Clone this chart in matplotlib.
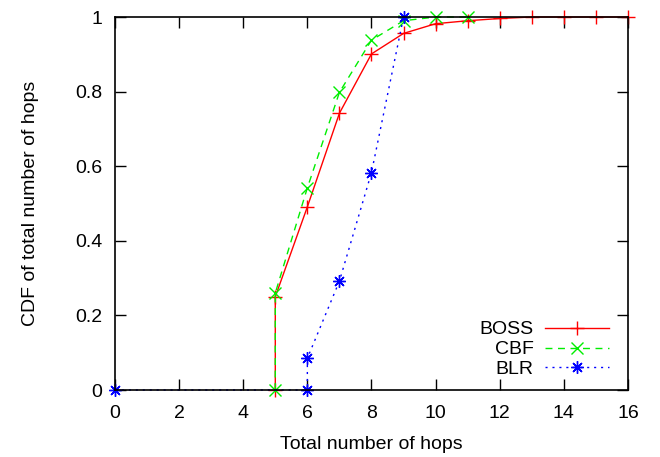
import matplotlib
matplotlib.use("Agg")
import matplotlib.pyplot as plt

plt.rcParams['font.family'] = ['Liberation Sans', 'DejaVu Sans']

boss_x = [5, 5, 6, 7, 8, 9, 10, 11, 12, 13, 14, 15, 16]
boss_y = [0, 0.25, 0.491, 0.742, 0.901, 0.956, 0.982, 0.990, 0.996, 1.0, 1.0, 1.0, 1.0]
cbf_x = [5, 5, 6, 7, 8, 9, 10, 11]
cbf_y = [0, 0.26, 0.542, 0.798, 0.938, 0.99, 1.0, 1.0]
blr_x = [0, 6, 6, 7, 8, 9]
blr_y = [0, 0, 0.085, 0.292, 0.583, 1.0]

xticks = [0, 2, 4, 6, 8, 10, 12, 14, 16]
yticks = [0, 0.2, 0.4, 0.6, 0.8, 1]
ytick_labels = ['0', '0.2', '0.4', '0.6', '0.8', '1']

fig = plt.figure(figsize=(6.6, 4.57), dpi=100)
ax = fig.add_axes([0.1742, 0.1466, 0.7773, 0.8162])

star = (8, 2, 0)
ax.plot(boss_x, boss_y, color='#ff0000', lw=1.0, marker='+', ms=10, mew=1.0,
        label='BOSS', clip_on=False, zorder=2)
ax.plot(cbf_x, cbf_y, color='#00ee00', lw=1.0, ls=(0, (5, 4)), marker='x', ms=8, mew=1.0,
        label='CBF', clip_on=False, zorder=2)
ax.plot(blr_x, blr_y, color='#0000ff', lw=1.0, ls=(0, (1.5, 3.5)), marker=star, ms=9, mew=1.0,
        label='BLR', clip_on=False, zorder=2)

ax.set_xlim(0, 16)
ax.set_ylim(0, 1)
ax.set_xticks(xticks)
ax.set_xticklabels([str(v) for v in xticks])
ax.set_yticks(yticks)
ax.set_yticklabels(ytick_labels)
ax.tick_params(direction='in', length=8, width=1.0, top=True, right=True,
               labelsize=14, colors='black')
ax.tick_params(axis='x', pad=11)
ax.tick_params(axis='y', pad=9)
for s in ax.spines.values():
    s.set_linewidth(1.2)
    s.set_zorder(3)

ax.set_xlabel('Total number of hops', fontsize=14, labelpad=10)
ax.set_ylabel('CDF of total number of hops', fontsize=14, labelpad=26)

leg = ax.legend(loc='lower right', bbox_to_anchor=(0.99, -0.005), frameon=False,
                markerfirst=False, fontsize=14, handlelength=3.3, handletextpad=0.6,
                labelspacing=0.12, borderpad=0.2)
for t in leg.get_texts():
    t.set_ha('right')

fig.savefig('out.png', dpi=100)
